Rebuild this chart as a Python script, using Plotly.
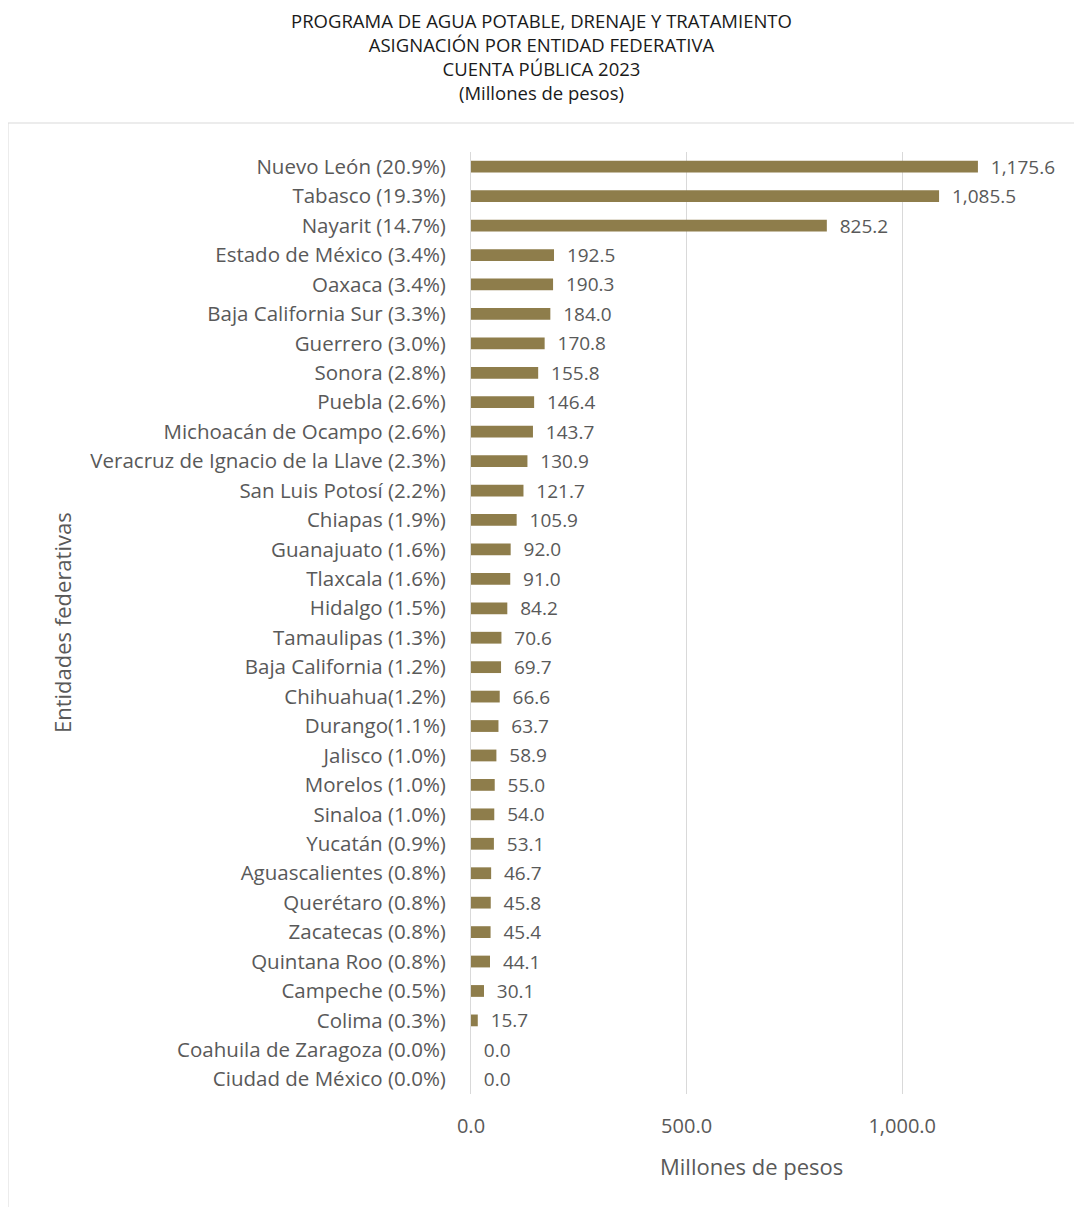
import plotly.graph_objects as go

entidades = [
    "Nuevo León (20.9%)", "Tabasco (19.3%)", "Nayarit (14.7%)", "Estado de México (3.4%)",
    "Oaxaca (3.4%)", "Baja California Sur (3.3%)", "Guerrero (3.0%)", "Sonora (2.8%)",
    "Puebla (2.6%)", "Michoacán de Ocampo (2.6%)", "Veracruz de Ignacio de la Llave (2.3%)",
    "San Luis Potosí (2.2%)", "Chiapas (1.9%)", "Guanajuato (1.6%)", "Tlaxcala (1.6%)",
    "Hidalgo (1.5%)", "Tamaulipas (1.3%)", "Baja California (1.2%)", "Chihuahua(1.2%)",
    "Durango(1.1%)", "Jalisco (1.0%)", "Morelos (1.0%)", "Sinaloa (1.0%)", "Yucatán (0.9%)",
    "Aguascalientes (0.8%)", "Querétaro (0.8%)", "Zacatecas (0.8%)", "Quintana Roo (0.8%)",
    "Campeche (0.5%)", "Colima (0.3%)", "Coahuila de Zaragoza (0.0%)", "Ciudad de México (0.0%)",
]
montos = [
    1175.6, 1085.5, 825.2, 192.5, 190.3, 184.0, 170.8, 155.8, 146.4, 143.7, 130.9,
    121.7, 105.9, 92.0, 91.0, 84.2, 70.6, 69.7, 66.6, 63.7, 58.9, 55.0, 54.0, 53.1,
    46.7, 45.8, 45.4, 44.1, 30.1, 15.7, 0.0, 0.0,
]
x_ticks = [0, 500, 1000]
titulo = ["PROGRAMA DE AGUA POTABLE, DRENAJE Y TRATAMIENTO",
          "ASIGNACIÓN POR ENTIDAD FEDERATIVA",
          "CUENTA PÚBLICA 2023",
          "(Millones de pesos)"]

FONT = "Open Sans"
GRAY = "#595959"
OFF = 8  # page body margin

W, H = 1082 - OFF, 1207 - OFF
L, R, T, B = 471 - OFF, 0, 152 - OFF, 113
pw = W - L - R
ph = H - T - B


def px_x(x):
    return (x - OFF - L) / pw


def px_y(y):
    return (H - B - (y - OFF)) / ph


fig = go.Figure()
fig.add_trace(go.Bar(
    x=montos, y=entidades, orientation="h",
    marker=dict(color="#8E7D4B", line=dict(width=0)),
    width=0.4,
    text=["  " + f"{v:,.1f}" for v in montos],
    textposition="outside", cliponaxis=False, constraintext="none",
    textfont=dict(family=FONT, size=19, color=GRAY),
))

fig.update_layout(
    width=W, height=H,
    margin=dict(l=L, r=R, t=T, b=B, autoexpand=False),
    paper_bgcolor="white", plot_bgcolor="white",
    showlegend=False,
    font=dict(family=FONT, color=GRAY),
    xaxis=dict(range=[0, (W - L) / 0.4312], tickvals=x_ticks, tickformat=",.1f",
               showgrid=True, gridcolor="#d9d9d9", gridwidth=1, zeroline=False,
               showline=False, ticks="", ticklabelstandoff=18,
               tickfont=dict(family=FONT, size=20, color=GRAY)),
    yaxis=dict(categoryorder="array", categoryarray=entidades, autorange="reversed",
               showgrid=False, zeroline=False, ticks="", showline=True,
               linecolor="#d9d9d9", linewidth=1, ticklabelstandoff=20,
               tickfont=dict(family=FONT, size=20.5, color=GRAY)),
)

fig.add_annotation(text="<br>".join(titulo), xref="paper", yref="paper",
                   x=px_x(541), y=px_y(57), showarrow=False,
                   xanchor="center", yanchor="middle", align="center",
                   font=dict(family=FONT, size=18.5, color="#1a1a1a"))

fig.add_annotation(text="Millones de pesos", xref="paper", yref="paper",
                   x=px_x(751), y=px_y(1166), showarrow=False,
                   font=dict(family=FONT, size=22, color=GRAY), yanchor="middle")
fig.add_annotation(text="Entidades federativas", xref="paper", yref="paper",
                   x=px_x(62), y=px_y(623), showarrow=False, textangle=-90,
                   font=dict(family=FONT, size=22, color=GRAY), xanchor="center", yanchor="middle")

fig.add_shape(type="rect", xref="paper", yref="paper",
              x0=px_x(8), x1=px_x(1100),
              y0=px_y(1230), y1=px_y(123),
              line=dict(color="#d9d9d9", width=1), fillcolor="rgba(0,0,0,0)", layer="below")

fig.write_html("out.html")
